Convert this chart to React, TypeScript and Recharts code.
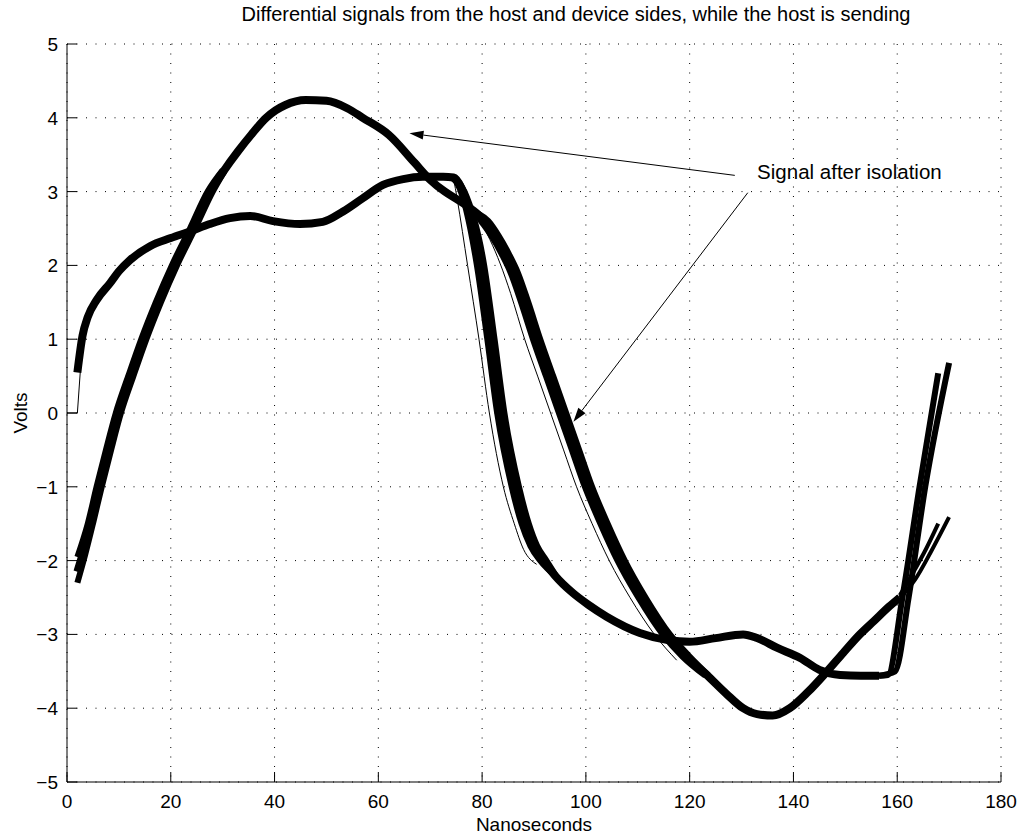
import React from 'react';
import { LineChart, Line, XAxis, YAxis, CartesianGrid, ReferenceLine, ReferenceDot, Label } from 'recharts';

type P = [number, number];

const xTicks = [0, 20, 40, 60, 80, 100, 120, 140, 160, 180];
const yTicks = [-5, -4, -3, -2, -1, 0, 1, 2, 3, 4, 5];

const titleText = 'Differential signals from the host and device sides, while the host is sending';
const xLabelText = 'Nanoseconds';
const yLabelText = 'Volts';
const annotationText = 'Signal after isolation';

// signal after isolation (smooth bundle): centre of the bundle
const isolatedMain: P[] = [
  [2, -2.15], [3, -1.92], [4.5, -1.5], [6.2, -1.0], [8, -0.5], [9.9, 0], [12.3, 0.5], [14.8, 1.0],
  [17.6, 1.5], [20.7, 2.0], [24.2, 2.5], [27.6, 3.0], [30.2, 3.28], [33, 3.55], [35.5, 3.77], [38.4, 4.0],
  [40.2, 4.1], [42, 4.17], [46, 4.24], [50, 4.23], [54, 4.13], [57, 4.0], [62, 3.77], [67, 3.39], [70, 3.16],
  [72.8, 3.0], [75.5, 2.88], [78, 2.76], [80.5, 2.6], [82.5, 2.4], [84.5, 2.15], [86.2, 1.9], [88.2, 1.5],
  [90.5, 1.0], [93, 0.5], [95.5, 0], [98, -0.5], [100.5, -1.0], [103.5, -1.5], [106.8, -2.0], [110.8, -2.5],
  [115.5, -3.0], [119.3, -3.3], [123.3, -3.55], [127, -3.8], [130.3, -4.0], [133, -4.08], [136, -4.1],
  [139.3, -4.0], [142.8, -3.78], [146.5, -3.5], [149.6, -3.25], [152.8, -3.0], [155.5, -2.82], [158.5, -2.62],
  [160.5, -2.5],
];
// earlier / later traces of the same bundle on its steep edges
const isolatedRiseEarly: P[] = [
  [2, -1.95], [4, -1.5], [5.7, -1.0], [7.5, -0.5], [9.4, 0], [11.8, 0.5], [14.3, 1.0], [17.1, 1.5], [20.2, 2.0],
  [23.7, 2.5], [27.1, 3.0], [30.0, 3.29],
];
const isolatedRiseLate: P[] = [
  [2, -2.3], [3.5, -1.92], [5, -1.5], [6.7, -1.0], [8.5, -0.5], [10.4, 0], [12.8, 0.5], [15.3, 1.0], [18.1, 1.5],
  [21.2, 2.0], [24.7, 2.5], [28.1, 3.0], [30.4, 3.28],
];
const isolatedFallEarly: P[] = [
  [76, 2.87], [78, 2.77], [79.8, 2.6], [81.8, 2.4], [83.8, 2.15], [85.5, 1.9], [87.5, 1.5], [89.8, 1.0], [92.3, 0.5],
  [94.8, 0], [97.3, -0.5], [99.8, -1.0], [102.8, -1.5], [106.1, -2.0], [110.1, -2.5], [114.8, -3.0], [118.6, -3.3],
  [123, -3.56],
];
const isolatedFallLate: P[] = [
  [76, 2.86], [78.3, 2.74], [81.2, 2.6], [83.2, 2.4], [85.2, 2.15], [86.9, 1.9], [88.9, 1.5], [91.2, 1.0], [93.7, 0.5],
  [96.2, 0], [98.7, -0.5], [101.2, -1.0], [104.2, -1.5], [107.5, -2.0], [111.5, -2.5], [116.2, -3.0], [120, -3.3],
  [123.6, -3.55],
];
const isolatedLate: P[] = [[160.5, -2.5], [163.5, -2.25], [166.5, -1.88], [170, -1.41]];
const isolatedEarly: P[] = [[160.5, -2.47], [163, -2.17], [165.5, -1.85], [167.9, -1.5]];
const isolatedStray: P[] = [
  [76.5, 2.84], [79, 2.66], [81.5, 2.35], [83.5, 2.02], [85.5, 1.62], [88.2, 1.0], [90.7, 0.5], [93.2, 0],
  [95.7, -0.5], [98.2, -1.0], [101.2, -1.5], [104.5, -2.0], [108.5, -2.5], [113.2, -3.0], [117.5, -3.35],
];

// host side signal (sharp bundle)
const hostMain: P[] = [
  [2, 0.55], [3, 1.05], [4, 1.3], [5.7, 1.53], [8.3, 1.76], [10, 1.92], [12.1, 2.07], [16, 2.26], [20, 2.37],
  [23.7, 2.46], [27.5, 2.56], [31.4, 2.64], [35.3, 2.67], [39.7, 2.6], [44.9, 2.56], [49.3, 2.59], [53.2, 2.73],
  [57, 2.91], [60.9, 3.09], [64.8, 3.17], [68.6, 3.2], [72.5, 3.2], [74.5, 3.19], [76, 3.05], [79.7, 2.0],
  [81.7, 1.0], [83.6, 0], [86.4, -1.0], [88.3, -1.5], [89.9, -1.8], [91.8, -2.0], [94, -2.2], [97.5, -2.44],
  [100.5, -2.6], [104, -2.76], [110.4, -2.98], [116, -3.08], [120, -3.1], [125, -3.05], [130.3, -3.0],
  [133, -3.05], [136.8, -3.18], [141.3, -3.32], [145, -3.48], [149, -3.55], [153, -3.56], [156.5, -3.56],
];
const hostDropEarly: P[] = [
  [74.2, 3.19], [75.3, 3.1], [79.0, 2.0], [81.0, 1.0], [82.9, 0], [85.7, -1.0], [87.6, -1.5], [89.3, -1.8], [91.2, -2.0],
  [94, -2.2],
];
const hostDropLate: P[] = [
  [74.8, 3.19], [76.6, 3.0], [80.4, 2.0], [82.4, 1.0], [84.3, 0], [87.1, -1.0], [89.0, -1.5], [90.6, -1.8], [92.4, -2.0],
  [94.2, -2.2],
];
const hostLate: P[] = [[156.5, -3.56], [159.6, -3.5], [162.2, -2.5], [165.4, -1.0], [170, 0.68]];
const hostEarly: P[] = [[156.5, -3.56], [158.2, -3.55], [161.0, -2.5], [164.3, -1.0], [167.9, 0.54]];
const hostStray: P[] = [
  [74.5, 3.18], [75.2, 2.9], [77.2, 2.0], [79.4, 1.0], [81.4, 0.0], [84.1, -1.0], [86.2, -1.5], [88, -1.85], [90.5, -2.05],
];
const hostZeroStart: P[] = [[0, 0], [2, 0], [2.8, 0.8], [4, 1.25]];

// annotation anchor points (data units)
const arrowToIsolatedPeak: P[] = [[128.7, 3.22], [66, 3.79]];
const arrowToIsolatedFall: P[] = [[131.2, 2.985], [97.6, -0.118]];
const annotationAt: P = [133, 3.17];
const titleAt: P = [98.1, 5];

const toData = (pts: P[]) => pts.map(([x, v]) => ({ x, v }));

const FONT = '"Liberation Sans", Arial, Helvetica, sans-serif';
const FS = 19;
const FS_TITLE = 20;
const FS_NOTE = 20.5;
const fmt = (v: number) => (v < 0 ? '\u2212' + Math.abs(v) : String(v));

const BottomTick = (props: any) => {
  const { x, y, payload } = props;
  return (
    <g>
      <line x1={x} y1={y} x2={x} y2={y - 10} stroke="#000" strokeWidth={1} />
      <text x={x} y={y + 26} textAnchor="middle" fontSize={FS} fontFamily={FONT} fill="#000">
        {fmt(payload.value)}
      </text>
    </g>
  );
};
const TopTick = (props: any) => {
  const { x, y } = props;
  return <line x1={x} y1={y} x2={x} y2={y + 10} stroke="#000" strokeWidth={1} />;
};
const LeftTick = (props: any) => {
  const { x, y, payload } = props;
  return (
    <g>
      <line x1={x} y1={y} x2={x + 10} y2={y} stroke="#000" strokeWidth={1} />
      <text x={x - 9} y={y + 7} textAnchor="end" fontSize={FS} fontFamily={FONT} fill="#000">
        {fmt(payload.value)}
      </text>
    </g>
  );
};
const RightTick = (props: any) => {
  const { x, y } = props;
  return <line x1={x} y1={y} x2={x - 10} y2={y} stroke="#000" strokeWidth={1} />;
};

const arrowShape = (props: any) => {
  const { x1, y1, x2, y2 } = props;
  const dx = x2 - x1;
  const dy = y2 - y1;
  const len = Math.hypot(dx, dy) || 1;
  const ux = dx / len;
  const uy = dy / len;
  const L = 14;
  const W = 4.5;
  const bx = x2 - ux * L;
  const by = y2 - uy * L;
  return (
    <g>
      <line x1={x1} y1={y1} x2={bx} y2={by} stroke="#000" strokeWidth={1} />
      <polygon points={`${x2},${y2} ${bx - uy * W},${by + ux * W} ${bx + uy * W},${by - ux * W}`} fill="#000" />
    </g>
  );
};

const textShape = (props: any) => (
  <text x={props.cx} y={props.cy} fontSize={FS_NOTE} fontFamily={FONT} fill="#000">
    {annotationText}
  </text>
);

const titleShape = (props: any) => (
  <text x={props.cx} y={props.cy - 23} textAnchor="middle" fontSize={FS_TITLE} fontFamily={FONT} fill="#000">
    {titleText}
  </text>
);

const XLabelContent = (props: any) => {
  const vb = props.viewBox || {};
  return (
    <text x={vb.x + vb.width / 2} y={vb.y + 49} textAnchor="middle" fontSize={FS} fontFamily={FONT} fill="#000">
      {xLabelText}
    </text>
  );
};
const YLabelContent = (props: any) => {
  const vb = props.viewBox || {};
  const cy = vb.y + vb.height / 2;
  return (
    <text
      x={0}
      y={0}
      transform={`translate(27, ${cy}) rotate(-90)`}
      textAnchor="middle"
      fontSize={FS}
      fontFamily={FONT}
      fill="#000"
    >
      {yLabelText}
    </text>
  );
};

const base = { stroke: '#000', dot: false, activeDot: false, isAnimationActive: false, type: 'monotone' as const, strokeLinejoin: 'round' as const };

export default function App() {
  return (
    <div style={{ position: 'absolute', left: 0, top: 0, width: 1021, height: 835, background: '#fff' }}>
      <LineChart width={1021} height={835} margin={{ top: 44, right: 20, bottom: 0, left: 0 }}>
        <CartesianGrid stroke="#000" strokeDasharray="1 8.5" strokeWidth={1} />
        <XAxis
          dataKey="x"
          type="number"
          domain={[0, 180]}
          ticks={xTicks}
          allowDataOverflow
          height={53}
          tickSize={0}
          tickMargin={0}
          tick={<BottomTick />}
          axisLine={{ stroke: '#000', strokeWidth: 1 }}
          tickLine={false}
          label={<Label content={<XLabelContent />} />}
        />
        <XAxis
          xAxisId="top"
          orientation="top"
          dataKey="x"
          type="number"
          domain={[0, 180]}
          ticks={xTicks}
          allowDataOverflow
          height={0}
          tickSize={0}
          tickMargin={0}
          tick={<TopTick />}
          axisLine={{ stroke: '#000', strokeWidth: 1 }}
          tickLine={false}
        />
        <YAxis
          type="number"
          domain={[-5, 5]}
          ticks={yTicks}
          allowDataOverflow
          width={67}
          tickSize={0}
          tickMargin={0}
          tick={<LeftTick />}
          axisLine={{ stroke: '#000', strokeWidth: 1 }}
          tickLine={false}
          label={<Label content={<YLabelContent />} />}
        />
        <YAxis
          yAxisId="right"
          orientation="right"
          type="number"
          domain={[-5, 5]}
          ticks={yTicks}
          allowDataOverflow
          width={0}
          tickSize={0}
          tickMargin={0}
          tick={<RightTick />}
          axisLine={{ stroke: '#000', strokeWidth: 1 }}
          tickLine={false}
        />
        <Line {...base} data={toData(isolatedMain)} dataKey="v" strokeWidth={8} />
        <Line {...base} data={toData(isolatedRiseEarly)} dataKey="v" strokeWidth={6} />
        <Line {...base} data={toData(isolatedRiseLate)} dataKey="v" strokeWidth={6} />
        <Line {...base} data={toData(isolatedFallEarly)} dataKey="v" strokeWidth={6} />
        <Line {...base} data={toData(isolatedFallLate)} dataKey="v" strokeWidth={6} />
        <Line {...base} data={toData(isolatedLate)} dataKey="v" strokeWidth={4} />
        <Line {...base} data={toData(isolatedEarly)} dataKey="v" strokeWidth={4} />
        <Line {...base} data={toData(isolatedStray)} dataKey="v" strokeWidth={1} />
        <Line {...base} data={toData(hostMain)} dataKey="v" strokeWidth={8} />
        <Line {...base} data={toData(hostDropEarly)} dataKey="v" strokeWidth={6} />
        <Line {...base} data={toData(hostDropLate)} dataKey="v" strokeWidth={6} />
        <Line {...base} data={toData(hostLate)} dataKey="v" strokeWidth={6} />
        <Line {...base} data={toData(hostEarly)} dataKey="v" strokeWidth={6} />
        <Line {...base} data={toData(hostStray)} dataKey="v" strokeWidth={1} />
        <Line {...base} type="linear" data={toData(hostZeroStart)} dataKey="v" strokeWidth={1} />
        <ReferenceLine
          segment={arrowToIsolatedPeak.map(([x, y]) => ({ x, y }))}
          shape={arrowShape}
          ifOverflow="visible"
        />
        <ReferenceLine
          segment={arrowToIsolatedFall.map(([x, y]) => ({ x, y }))}
          shape={arrowShape}
          ifOverflow="visible"
        />
        <ReferenceDot x={annotationAt[0]} y={annotationAt[1]} r={0} shape={textShape} ifOverflow="visible" />
        <ReferenceDot x={titleAt[0]} y={titleAt[1]} r={0} shape={titleShape} ifOverflow="visible" />
      </LineChart>
    </div>
  );
}
